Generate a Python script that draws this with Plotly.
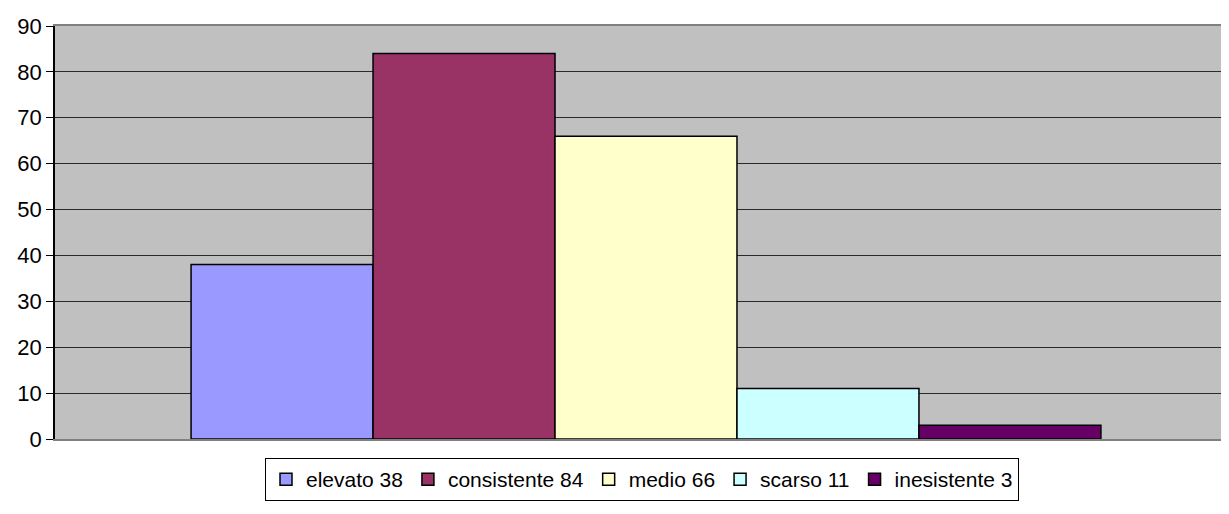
import plotly.graph_objects as go

labels = ["elevato 38", "consistente 84", "medio 66", "scarso 11", "inesistente 3"]
values = [38, 84, 66, 11, 3]
colors = ["#9999FF", "#993366", "#FFFFCC", "#CCFFFF", "#660066"]
y_ticks = [0, 10, 20, 30, 40, 50, 60, 70, 80, 90]

fig = go.Figure()
for lab, v, c in zip(labels, values, colors):
    fig.add_trace(go.Bar(
        x=[""], y=[v], name=lab,
        marker=dict(color=c, line=dict(color="black", width=1.5)),
    ))

fig.update_layout(
    width=1221, height=498,
    barmode="group", bargap=0.225, bargroupgap=0,
    paper_bgcolor="white", plot_bgcolor="#C0C0C0",
    margin=dict(l=47, r=0, t=18, b=67, autoexpand=False),
    font=dict(family="Liberation Sans, Arial", size=21, color="black"),
    showlegend=True,
    legend=dict(
        orientation="h", x=0.5, xanchor="center", y=-0.046, yanchor="top",
        bordercolor="black", borderwidth=1, bgcolor="white",
        font=dict(size=21), itemwidth=30, tracegroupgap=0,
    ),
    xaxis=dict(showticklabels=False, showgrid=False, showline=True, mirror=True,
               linecolor="#808080", linewidth=2, ticks="", range=[-0.5034, 0.4966]),
    yaxis=dict(range=[0, 90], tickvals=y_ticks, showgrid=True,
               gridcolor="#2a2a2a", gridwidth=1, showline=True,
               linecolor="black", linewidth=1.5, ticks="outside", ticklen=7,
               tickcolor="black", zeroline=False, tickfont=dict(size=22)),
)

fig.write_html("out.html")
